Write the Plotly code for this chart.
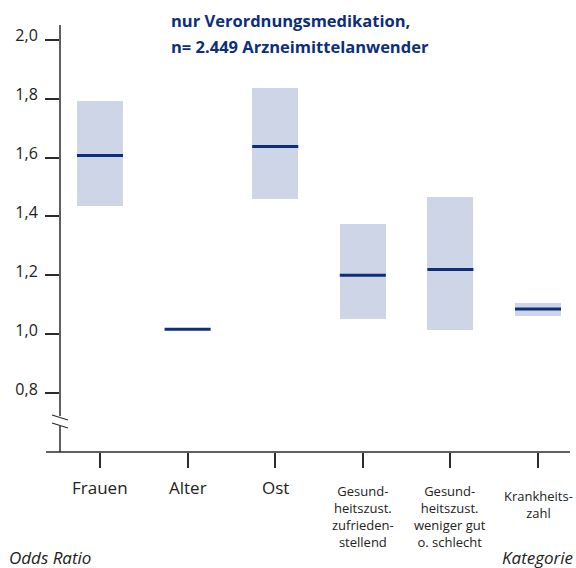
import plotly.graph_objs as go

categories = ["Frauen", "Alter", "Ost",
              "Gesund-<br>heitszust.<br>zufrieden-<br>stellend",
              "Gesund-<br>heitszust.<br>weniger gut<br>o. schlecht",
              "Krankheits-<br>zahl"]
odds_ratio = [1.607, 1.017, 1.637, 1.200, 1.220, 1.086]
ci_low = [1.435, 1.017, 1.459, 1.050, 1.013, 1.061]
ci_high = [1.793, 1.017, 1.837, 1.373, 1.465, 1.107]
y_ticks = [0.8, 1.0, 1.2, 1.4, 1.6, 1.8, 2.0]
title_lines = ["nur Verordnungsmedikation,", "n= 2.449 Arzneimittelanwender"]

W, H = 576, 568
L, R, T, B = 60, 6, 25, 116
pw, ph = W - L - R, H - T - B
FONT = "Open Sans"
AXIS = "#2b2b2b"
NAVY = "#0c2e7b"

# pixel position on the page -> paper coordinates
def px_x(p):
    return (p - L) / pw

def px_y(p):
    return (H - B - p) / ph

xs = list(range(len(categories)))

fig = go.Figure()
fig.add_trace(go.Bar(
    x=xs, y=[h - l for h, l in zip(ci_high, ci_low)], base=ci_low,
    width=0.525, marker=dict(color="#cdd5e7", line=dict(width=0)),
    hoverinfo="skip", showlegend=False))
# line-ew draws 1.4 * size long
fig.add_trace(go.Scatter(
    x=xs, y=odds_ratio, mode="markers",
    marker=dict(symbol="line-ew", size=32.9, line=dict(color=NAVY, width=3)),
    showlegend=False))

# axis lines with break marks
shapes = [
    dict(type="line", xref="paper", yref="paper", x0=px_x(46), x1=px_x(570),
         y0=0, y1=0, line=dict(color=AXIS, width=1.5)),
    dict(type="line", xref="paper", yref="paper", x0=0, x1=0,
         y0=0, y1=px_y(426), line=dict(color=AXIS, width=1.5)),
    dict(type="line", xref="paper", yref="paper", x0=0, x1=0,
         y0=px_y(416), y1=1, line=dict(color=AXIS, width=1.5)),
    dict(type="line", xref="paper", yref="paper", x0=px_x(52), x1=px_x(68),
         y0=px_y(415), y1=px_y(420), line=dict(color=AXIS, width=1.3)),
    dict(type="line", xref="paper", yref="paper", x0=px_x(52), x1=px_x(68),
         y0=px_y(423), y1=px_y(428), line=dict(color=AXIS, width=1.3)),
]

annotations = []
for i, lab in enumerate(categories):
    multi = "<br>" in lab
    size = 13 if multi else 17
    top = 480 if multi else 474
    if lab.count("<br>") == 1:
        top = 485
    annotations.append(dict(x=i, xref="x", y=px_y(top), yref="paper",
                            text=lab, showarrow=False, yanchor="top", xanchor="center",
                            font=dict(family=FONT, size=size, color="#222")))
for line, cy in zip(title_lines, [21, 46]):
    annotations.append(dict(x=px_x(169), xref="paper", y=px_y(cy), yref="paper",
                            text="<b>" + line + "</b>", showarrow=False,
                            xanchor="left", yanchor="middle",
                            font=dict(family=FONT, size=16.5, color=NAVY)))
annotations.append(dict(x=px_x(7), xref="paper", y=px_y(557), yref="paper",
                        text="<i>Odds Ratio</i>", showarrow=False,
                        xanchor="left", yanchor="middle",
                        font=dict(family=FONT, size=17, color="#222")))
annotations.append(dict(x=px_x(575), xref="paper", y=px_y(557), yref="paper",
                        text="<i>Kategorie</i>", showarrow=False,
                        xanchor="right", yanchor="middle",
                        font=dict(family=FONT, size=17, color="#222")))

fig.update_layout(
    width=W, height=H, margin=dict(l=L, r=R, t=T, b=B),
    paper_bgcolor="white", plot_bgcolor="white",
    shapes=shapes, annotations=annotations, bargap=0,
    xaxis=dict(range=[-0.4566, 5.365], tickvals=xs, showticklabels=False,
               ticks="outside", ticklen=15, tickwidth=1.5, tickcolor=AXIS,
               showgrid=False, zeroline=False, showline=False, fixedrange=True),
    yaxis=dict(range=[0.6, 2.05], tickvals=y_ticks,
               ticktext=[("%.1f" % v).replace(".", ",") for v in y_ticks],
               ticks="outside", ticklen=14, tickwidth=1.5, tickcolor=AXIS,
               ticklabelstandoff=4, ticklabelshift=-4,
               tickfont=dict(family=FONT, size=16, color="#222"),
               showgrid=False, zeroline=False, showline=False, fixedrange=True),
)

# drop the default page margin so the figure fills the window exactly
fig.write_html("out.html", config={"displayModeBar": False},
               post_script="document.body.style.margin='0';")
